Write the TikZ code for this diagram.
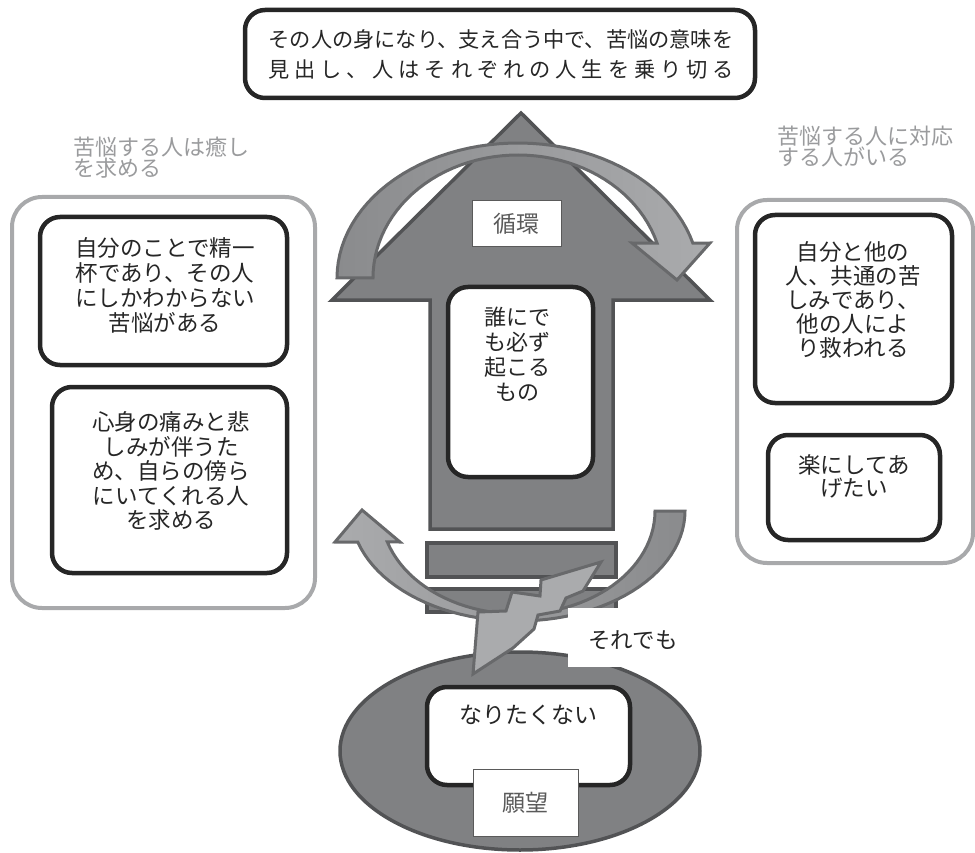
\documentclass[tikz,border=0pt]{standalone}
\usepackage{fontspec}
\setmainfont{Noto Sans CJK JP}
\usetikzlibrary{shapes.geometric}
\definecolor{arrowfill}{HTML}{808183}
\definecolor{arrowline}{HTML}{525355}
\definecolor{curveA}{HTML}{8A8B8D}
\definecolor{curveB}{HTML}{AAABAD}
\definecolor{curveline}{HTML}{68696B}
\definecolor{groupline}{HTML}{A8A9AB}
\definecolor{titlegray}{HTML}{9A9B9D}
\definecolor{labelgray}{HTML}{5A5A5A}
\definecolor{ink}{HTML}{262626}
\begin{document}
\begin{tikzpicture}[x=1pt,y=-1pt,
  blackbox/.style={draw=ink, line width=4.5pt, rounded corners=20pt, fill=white, inner sep=0pt},
  groupbox/.style={draw=groupline, line width=4pt, rounded corners=30pt, inner sep=0pt},
  tagbox/.style={draw=labelgray, line width=1pt, fill=white, inner sep=0pt},
  bodytext/.style={font=\fontsize{22.5}{25}\selectfont, text=ink, align=center, inner sep=0pt},
  titletext/.style={font=\fontsize{22}{21}\selectfont, text=titlegray, align=left, inner sep=0pt},
  tagtext/.style={font=\fontsize{23}{25}\selectfont, text=labelgray, inner sep=0pt},
  curved/.style={draw=curveline, line width=3pt, line join=miter},
  bigshape/.style={draw=arrowline, fill=arrowfill, line width=3.5pt, line join=miter},
  stripbox/.style={draw=arrowline, fill=arrowfill, line width=3.5pt, inner sep=0pt},
]
\useasboundingbox (0,0) rectangle (975,853);

% ---------- left group ----------
\node[groupbox, minimum width=303pt, minimum height=411pt] (lgroup) at (163.5,402.5) {};
\node[titletext, anchor=west] (ltitle) at (73,157.5) {苦悩する人は癒し\\を求める};
\node[blackbox, minimum width=247pt, minimum height=148pt] (lbox1) at (163.5,291) {};
\node[bodytext] (ltext1) at (165,285.5) {自分のことで精一\\杯であり、その人\\にしかわからない\\苦悩がある};
\node[blackbox, minimum width=235pt, minimum height=186pt] (lbox2) at (169.5,480) {};
\node[bodytext, font=\fontsize{22.5}{24.5}\selectfont] (ltext2) at (171,471) {心身の痛みと悲\\しみが伴うた\\め、自らの傍ら\\にいてくれる人\\を求める};

% ---------- right group ----------
\node[groupbox, minimum width=236pt, minimum height=363pt] (rgroup) at (855,381.5) {};
\node[titletext, anchor=west] (rtitle) at (777,147) {苦悩する人に対応\\する人がいる};
\node[blackbox, minimum width=197pt, minimum height=188pt] (rbox1) at (853.5,309) {};
\node[bodytext, font=\fontsize{22.5}{24}\selectfont] (rtext1) at (853,300) {自分と他の\\人、共通の苦\\しみであり、\\他の人によ\\り救われる};
\node[blackbox, minimum width=172pt, minimum height=105pt] (rbox2) at (854,487.5) {};
\node[bodytext, font=\fontsize{22.5}{23}\selectfont] (rtext2) at (854,476.5) {楽にしてあ\\げたい};

% ---------- top box ----------
\node[blackbox, minimum width=510pt, minimum height=88pt] (topbox) at (500,54) {};
\node[bodytext, font=\fontsize{21.2}{30}\selectfont] (toptext) at (501,54) {その人の身になり、支え合う中で、苦悩の意味を\\\makebox[466pt]{見\hfill 出\hfill し\hfill 、\hfill 人\hfill は\hfill そ\hfill れ\hfill ぞ\hfill れ\hfill の\hfill 人\hfill 生\hfill を\hfill 乗\hfill り\hfill 切\hfill る}};

% ---------- big arrow ----------
\draw[bigshape] (521,113) -- (710,300) -- (613,300) -- (613,529) -- (430,529) -- (430,300) -- (332,300) -- cycle;
\node[stripbox, minimum width=189pt, minimum height=34pt] (strip1) at (521.5,560) {};
\node[stripbox, minimum width=189pt, minimum height=23pt] (strip2) at (521.5,600.5) {};

% ---------- top curved arrow ----------
\draw[curved, left color=curveA, right color=curveB]
  plot[domain=180:15, samples=50] ({518+181*cos(\x)},{278-135*sin(\x)})
  -- (710,243) -- (677,280) -- (632,243)
  -- plot[domain=16.5:180, samples=50] ({518+145*cos(\x)},{278-123*sin(\x)}) -- cycle;

\node[tagbox, minimum width=89pt, minimum height=46pt] (cyclebox) at (516.5,224) {};
\node[tagtext] (cycletext) at (516.5,224) {循環};

\node[blackbox, minimum width=145pt, minimum height=190pt] (cbox) at (520.5,382) {};
\node[bodytext, font=\fontsize{22}{25}\selectfont] (ctext) at (517,354.5) {誰にで\\も必ず\\起こる\\もの};

% ---------- bottom curved arrow ----------
\draw[curved, left color=curveB, right color=curveA]
  plot[domain=0:163.6, samples=50] ({518+167*cos(\x)},{511+110*sin(\x)})
  -- (335,542) -- (362,510) -- (400,542)
  -- plot[domain=162.5:0, samples=50] ({518+137*cos(\x)},{511+103*sin(\x)}) -- cycle;

% ---------- ellipse ----------
\node[ellipse, draw=arrowline, fill=arrowfill, line width=3.5pt, minimum width=360pt, minimum height=198pt, inner sep=0pt] (wish) at (520,751) {};

% ---------- lightning ----------
\draw[curved, fill=curveB]
  (601,562) -- (541,580) -- (540,596) -- (512,592) -- (506,611) -- (478,612)
  -- (473,674) -- (513,648) -- (534,629) -- (538,615) -- (560,611) -- (566,598) -- (583,591) -- cycle;

% ---------- labels ----------
\node[fill=white, minimum width=122pt, minimum height=59pt, inner sep=0pt] (evenbox) at (629,637.5) {};
\node[bodytext] (eventext) at (633,640) {それでも};

\node[blackbox, minimum width=203pt, minimum height=98pt] (nbox) at (528.5,736) {};
\node[bodytext, font=\fontsize{23}{25}\selectfont] (ntext) at (528,715) {なりたくない};
\node[tagbox, minimum width=105pt, minimum height=67pt] (hopebox) at (525.5,802.5) {};
\node[tagtext] (hopetext) at (525.5,802.5) {願望};
\end{tikzpicture}
\end{document}
